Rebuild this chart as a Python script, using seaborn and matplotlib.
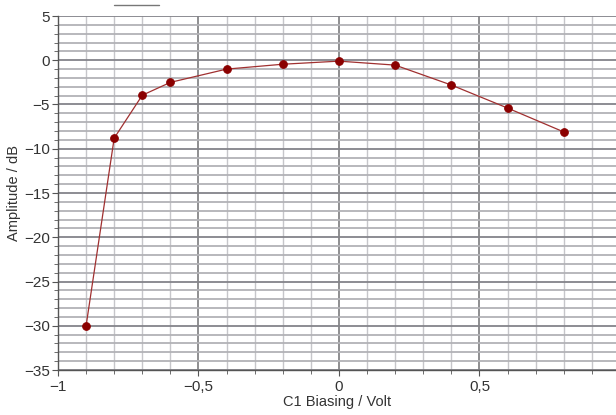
import numpy as np
import pandas as pd
import matplotlib
matplotlib.use('Agg')
import matplotlib.pyplot as plt
import seaborn as sns
from matplotlib.ticker import MultipleLocator, FuncFormatter
from matplotlib.lines import Line2D

# values
bias_volt = [-0.9, -0.8, -0.7, -0.6, -0.4, -0.2, 0.0, 0.2, 0.4, 0.6, 0.8]
amplitude_db = [-30.0, -8.8, -3.95, -2.5, -1.0, -0.45, -0.1, -0.55, -2.8, -5.4, -8.1]

df = pd.DataFrame({'bias': bias_volt, 'amp': amplitude_db})

sns.set_style('white')
plt.rcParams['font.family'] = ['Liberation Sans', 'DejaVu Sans']

fig = plt.figure(figsize=(6.16, 4.15), dpi=100)
ax = fig.add_axes([58 / 616, 45 / 415, 1 - 58 / 616, 354 / 415])

ax.set_xlim(-1, 0.986)
ax.set_ylim(-35, 5)

# grid: fine lines every 1 dB / 0.1 V, darker every 5 dB / 0.5 V
ax.xaxis.set_major_locator(MultipleLocator(0.5))
ax.xaxis.set_minor_locator(MultipleLocator(0.1))
ax.yaxis.set_major_locator(MultipleLocator(5))
ax.yaxis.set_minor_locator(MultipleLocator(1))
ax.grid(which='minor', axis='y', color='#b2b2b6', lw=1.3)
ax.grid(which='major', axis='y', color='#84848a', lw=1.3)
ax.grid(which='minor', axis='x', color='#c6c6ca', lw=1.0)
ax.grid(which='major', axis='x', color='#868688', lw=1.3)
ax.set_axisbelow(True)

sns.lineplot(data=df, x='bias', y='amp', ax=ax, color='#a03030', lw=0.9,
             marker='o', markersize=5.5, markerfacecolor='#8b0000',
             markeredgecolor='#8b0000', zorder=3)

fmt = FuncFormatter(lambda v, p: ('%g' % v).replace('.', ',').replace('-', '\u2212'))
ax.xaxis.set_major_formatter(fmt)
ax.yaxis.set_major_formatter(fmt)

for s in ['top', 'right']:
    ax.spines[s].set_visible(False)
for s in ['left', 'bottom']:
    ax.spines[s].set_color('#555555')
    ax.spines[s].set_linewidth(1.0)

ax.tick_params(which='both', direction='out', colors='#555555', labelcolor='#333333',
               labelsize=11, left=True, bottom=True)
ax.tick_params(which='major', length=4)
ax.tick_params(which='minor', length=3)
ax.tick_params(axis='y', pad=2)
ax.tick_params(axis='x', pad=3)

ax.set_xlabel('C1 Biasing / Volt', fontsize=10.5, color='#333333', labelpad=1)
ax.set_ylabel('Amplitude / dB', fontsize=10.5, color='#333333', labelpad=2)

# small leftover box edge at the top of the picture
fig.add_artist(Line2D([114 / 616, 159 / 616], [1 - 5 / 415, 1 - 5 / 415],
                      color='#777777', lw=1.0, transform=fig.transFigure))

fig.savefig('out.png', dpi=100)
